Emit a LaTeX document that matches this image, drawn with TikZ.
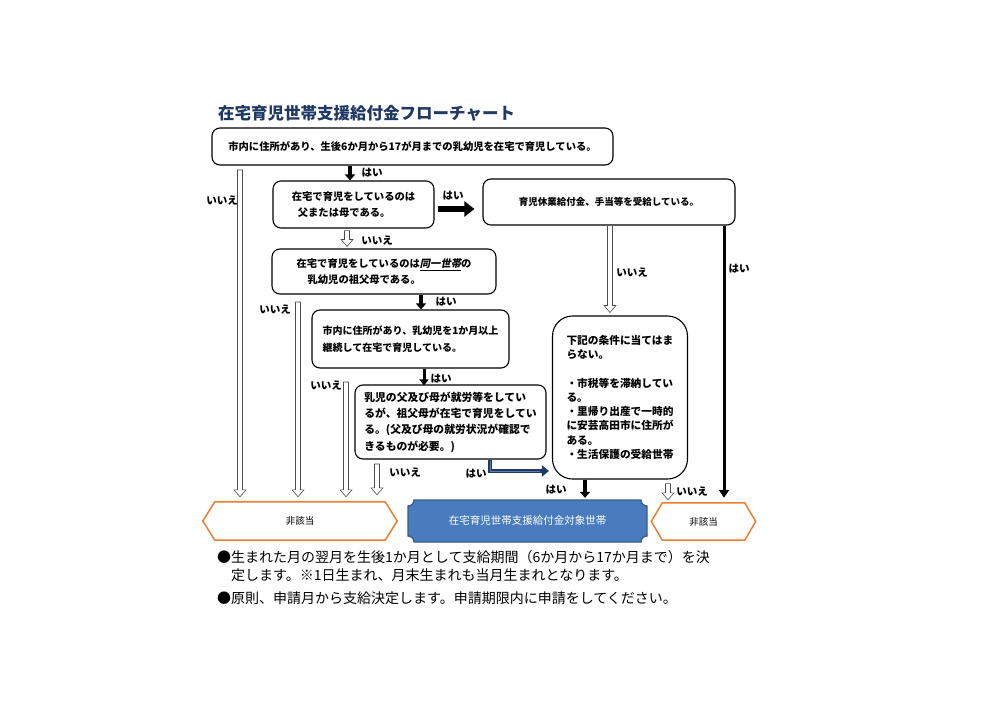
\documentclass[tikz,border=0pt]{standalone}
\usepackage{fontspec}
\setmainfont{Noto Sans CJK JP}
\newfontfamily\jpsl{Noto Sans CJK JP}[FakeSlant=0.2]
\usetikzlibrary{arrows.meta,calc}
\definecolor{navy}{HTML}{1F3864}
\definecolor{ngorange}{HTML}{ED7D31}
\definecolor{plaque}{HTML}{4A7BBE}
\definecolor{plaqueb}{HTML}{385D8A}
\definecolor{elbowin}{HTML}{5B7DB5}
\tikzset{
  box/.style={draw=black, line width=1.1pt, rounded corners=8pt, fill=white,
    inner sep=0pt, align=left, font=\bfseries\fontsize{10.3}{16}\selectfont},
  lbl/.style={inner sep=0pt, font=\bfseries\fontsize{10.5}{12}\selectfont},
  yesarrow/.style={line width=3.5pt, -{Triangle[length=6pt,width=10pt]}},
  hol/.style={draw=black!70, line width=0.6pt, fill=white, line join=miter},
  ngnode/.style={inner sep=0pt, font=\fontsize{9.5}{11}\selectfont},
  ngline/.style={draw=ngorange, line width=1.5pt, fill=white, line join=miter},
  note/.style={inner sep=0pt, anchor=west, font=\fontsize{14}{16}\selectfont}
}
\newcommand\hollowarrow[2]{%
  \draw[hol] ($(#1)+(-2.5,0)$) -- ($(#2)+(-2.5,-7)$) -- ($(#2)+(-6,-7)$) -- (#2)
    -- ($(#2)+(6,-7)$) -- ($(#2)+(2.5,-7)$) -- ($(#1)+(2.5,0)$) -- cycle;}
\begin{document}
\begin{tikzpicture}[x=1pt,y=-1pt]
\useasboundingbox (0,0) rectangle (1000,706);
\fill[white] (0,0) rectangle (1000,706);

% title
\node[inner sep=0pt, anchor=west, text=navy, font=\bfseries\fontsize{16.5}{18}\selectfont] (title) at (218,113) {在宅育児世帯支援給付金フローチャート};

% boxes
\node[box, minimum width=401pt, minimum height=37pt] (q1) at (412.5,146.5)
  {市内に住所があり、生後6か月から17が月までの乳幼児を在宅で育児している。};
\node[box, minimum width=161pt, minimum height=47pt] (q2) at (353.5,204.5)
  {在宅で育児をしているのは\\\hspace{6pt}父または母である。};
\node[box, minimum width=252pt, minimum height=46pt, font=\bfseries\fontsize{9.5}{12}\selectfont] (q3) at (609,202)
  {育児休業給付金、手当等を受給している。};
\node[box, minimum width=224pt, minimum height=45pt] (q4) at (384,271.5)
  {在宅で育児をしているのは{\jpsl\underline{同一世帯}}の\\\hspace{11pt}乳幼児の祖父母である。};
\node[box, minimum width=197pt, minimum height=58pt, font=\bfseries\fontsize{10}{17}\selectfont] (q5) at (410.5,339)
  {市内に住所があり、乳幼児を1か月以上\\継続して在宅で育児している。};
\node[box, minimum width=191pt, minimum height=74pt, font=\bfseries\fontsize{10.8}{16.3}\selectfont] (q6) at (450.5,422)
  {乳児の父及び母が就労等をしてい\\るが、祖父母が在宅で育児をしてい\\る。(父及び母の就労状況が確認で\\きるものが必要。)};
\node[box, rounded corners=20pt, minimum width=135pt, minimum height=163pt, font=\bfseries\fontsize{10.7}{14.2}\selectfont] (q7) at (620,397.5)
  {下記の条件に当てはま\\らない。\\[14.2pt]・市税等を滞納してい\\る。\\・里帰り出産で一時的\\に安芸高田市に住所が\\ある。\\・生活保護の受給世帯};

% result shapes
\node[ngnode, minimum width=194pt, minimum height=38pt] (ng1) at (300,521) {};
\draw[ngline] (ng1.west) -- ($(ng1.north west)+(12,0)$) -- ($(ng1.north east)+(-12,0)$) -- (ng1.east)
  -- ($(ng1.south east)+(-12,0)$) -- ($(ng1.south west)+(12,0)$) -- cycle;
\node[ngnode] at (ng1) {非該当};

\node[ngnode, minimum width=104pt, minimum height=37pt] (ng2) at (703.5,521.5) {};
\draw[ngline] (ng2.west) -- ($(ng2.north west)+(11,0)$) -- ($(ng2.north east)+(-11,0)$) -- (ng2.east)
  -- ($(ng2.south east)+(-11,0)$) -- ($(ng2.south west)+(11,0)$) -- cycle;
\node[ngnode] at (ng2) {非該当};

\draw[fill=plaque, draw=plaqueb, line width=1.3pt]
  (414,500) -- (641,500) .. controls (641,503.3) and (643.7,506) .. (647,506)
  -- (647,536) .. controls (643.7,536) and (641,538.7) .. (641,542)
  -- (414,542) .. controls (414,538.7) and (411.3,536) .. (408,536)
  -- (408,506) .. controls (411.3,506) and (414,503.3) .. (414,500) -- cycle;
\node[inner sep=0pt, minimum width=239pt, minimum height=42pt, text=white, font=\fontsize{10.5}{12}\selectfont] (target) at (527.5,521) {在宅育児世帯支援給付金対象世帯};

% column coordinates
\coordinate (c240) at (240,0);
\coordinate (c298) at (298,0);
\coordinate (c346) at (346,0);
\coordinate (c377) at (377,0);

% black (yes) arrows
\draw[yesarrow] (q1.south -| q2.north) ++(-3.5,0) coordinate (b1s) (b1s) -- (b1s |- q2.north);
\coordinate (r209) at (0,209);
\draw[line width=6pt, -{Triangle[length=10pt,width=15pt]}] ($(r209 -| q2.east)+(3,0)$) -- ($(r209 -| q3.west)+(-8,0)$);
\coordinate (b3) at (421,0);
\draw[yesarrow] (b3 |- q4.south) -- (b3 |- q5.north);
\coordinate (b4) at (424,0);
\draw[line width=3pt, -{Triangle[length=6pt,width=9pt]}] (b4 |- q5.south) -- ($(b4 |- q6.north)+(0,1)$);
\coordinate (b5) at (585,0);
\draw[yesarrow] (b5 |- q7.south) -- ($(b5 |- target.north)+(0,-2)$);
\coordinate (b6) at (724,0);
\draw[line width=3pt, -{Triangle[length=8pt,width=10pt]}] (b6 |- q3.south) -- ($(b6 |- ng2.north)+(0,-5)$);

% blue elbow arrow
\coordinate (e1) at (490,0);
\coordinate (e2) at (0,471);
\draw[navy, line width=4.5pt, -{Triangle[length=7pt,width=11pt]}] (e1 |- q6.south) |- ($(e2 -| q7.west)+(-3,0)$);
\draw[elbowin, line width=1pt] ($(e1 |- q6.south)+(0,1)$) |- ($(e2 -| q7.west)+(-12,0)$);

% hollow (no) arrows
\coordinate (h1s) at (240,170);
\coordinate (h1e) at ($(c240 |- ng1.north)+(0,-5)$);
\hollowarrow{h1s}{h1e}
\coordinate (h2s) at (298,302);
\coordinate (h2e) at ($(c298 |- ng1.north)+(0,-5)$);
\hollowarrow{h2s}{h2e}
\coordinate (h3s) at (346,382);
\coordinate (h3e) at ($(c346 |- ng1.north)+(0,-5)$);
\hollowarrow{h3s}{h3e}
\coordinate (h4s) at (377,464);
\coordinate (h4e) at ($(c377 |- ng1.north)+(0,-7)$);
\hollowarrow{h4s}{h4e}
\coordinate (c347) at (347,0);
\coordinate (h5s) at ($(c347 |- q2.south)+(0,2)$);
\coordinate (h5e) at ($(c347 |- q4.north)+(0,-2)$);
\hollowarrow{h5s}{h5e}
\coordinate (c610) at (610,0);
\coordinate (h6s) at (c610 |- q3.south);
\coordinate (h6e) at ($(c610 |- q7.north)+(0,-3)$);
\hollowarrow{h6s}{h6e}
\coordinate (c668) at (668,0);
\coordinate (h7s) at ($(c668 |- q7.south)+(0,4)$);
\coordinate (h7e) at ($(c668 |- ng2.north)+(0,-3)$);
\hollowarrow{h7s}{h7e}

% labels
\node[lbl] (l1) at (372,173) {はい};
\node[lbl] (l2) at (453,196) {はい};
\node[lbl] (l3) at (377,241) {いいえ};
\node[lbl] (l4) at (222,201) {いいえ};
\node[lbl] (l5) at (446,302) {はい};
\node[lbl] (l6) at (632,273) {いいえ};
\node[lbl] (l7) at (739,269) {はい};
\node[lbl] (l8) at (275,310) {いいえ};
\node[lbl] (l9) at (441,379) {はい};
\node[lbl] (l10) at (326,386) {いいえ};
\node[lbl] (l11) at (405,473) {いいえ};
\node[lbl] (l12) at (476,474) {はい};
\node[lbl] (l13) at (556,490) {はい};
\node[lbl] (l14) at (692,492) {いいえ};

% notes
\node[note] (n1) at (217,557) {●生まれた月の翌月を生後1か月として支給期間（6か月から17か月まで）を決};
\node[note] (n2) at (231,575) {定します。※1日生まれ、月末生まれも当月生まれとなります。};
\node[note] (n3) at (217,598) {●原則、申請月から支給決定します。申請期限内に申請をしてください。};
\end{tikzpicture}
\end{document}
